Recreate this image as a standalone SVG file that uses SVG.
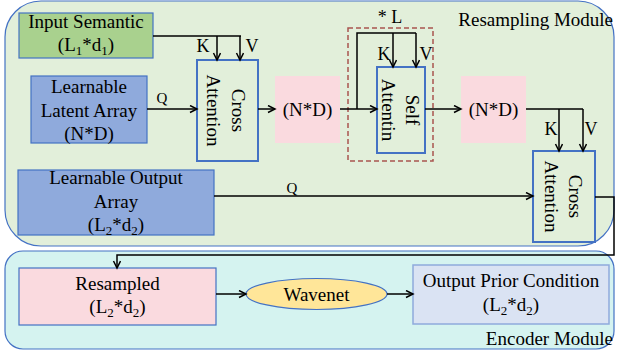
<svg xmlns="http://www.w3.org/2000/svg" width="619" height="356" viewBox="0 0 619 356">
<defs>
<marker id="arr" markerUnits="userSpaceOnUse" markerWidth="10" markerHeight="10" refX="8" refY="4" orient="auto">
<path d="M1,0.5 L8,4 L1,7.5" fill="none" stroke="#000" stroke-width="1.5"/>
</marker>
</defs>
<style>
text{font-family:"Liberation Serif","Times New Roman",serif;fill:#000;}
.t{font-size:19px;text-anchor:middle;}
.s{font-size:13px;}
.kv{font-size:18px;text-anchor:middle;}
.q{font-size:15px;text-anchor:middle;}
.ln{fill:none;stroke:#000;stroke-width:1.5;}
.ar{marker-end:url(#arr);}
.blue{fill:#8FAADC;stroke:#4472C4;stroke-width:1.2;}
.att{fill:none;stroke:#4472C4;stroke-width:2;}
.pink{fill:#FADADF;}
</style>
<g id="resampling-module">
<rect x="5" y="1" width="609" height="245" rx="36" ry="36" fill="#E2EFDA" stroke="#4472C4" stroke-width="1.2"/>
<text x="613" y="26" style="font-size:19px;text-anchor:end;">Resampling Module</text>
</g>
<g id="encoder-module">
<rect x="5" y="251" width="609" height="98" rx="18" ry="18" fill="#D5F3F0" stroke="#4472C4" stroke-width="1.2"/>
<text x="613" y="345" style="font-size:19px;text-anchor:end;">Encoder Module</text>
</g>
<g id="input-semantic">
<rect x="19" y="13" width="134" height="45" fill="#A9D18E" stroke="#4472C4" stroke-width="1.2"/>
<text x="86" y="28" class="t">Input Semantic</text>
<text x="86" y="51" class="t">(L<tspan class="s" dy="4">1</tspan><tspan dy="-4">*d</tspan><tspan class="s" dy="4">1</tspan><tspan dy="-4">)</tspan></text>
</g>
<g id="latent-array">
<rect x="31" y="76" width="116" height="67" class="blue"/>
<text x="89" y="93" class="t">Learnable</text>
<text x="89" y="116.5" class="t">Latent Array</text>
<text x="89" y="140" class="t">(N*D)</text>
</g>
<g id="cross-attention-1">
<rect x="197" y="60" width="61" height="101" class="att"/>
<g transform="translate(227.5,110.5) rotate(90)">
<text x="0" y="-4" class="t">Cross</text>
<text x="0" y="21" class="t">Attention</text>
</g>
</g>
<g id="nd-1">
<rect x="275" y="76" width="65" height="67" class="pink"/>
<text x="307.5" y="116" class="t">(N*D)</text>
</g>
<g id="self-attention-loop">
<rect x="348" y="28" width="85" height="133" fill="none" stroke="#A9554F" stroke-width="1.5" stroke-dasharray="5,3"/>
<text x="390" y="23" class="kv">* L</text>
</g>
<g id="self-attention">
<rect x="377" y="67" width="48" height="86" class="att"/>
<g transform="translate(401,110) rotate(90)">
<text x="0" y="-4.5" class="t">Self</text>
<text x="0" y="19.5" class="t">Attentin</text>
</g>
</g>
<g id="nd-2">
<rect x="461" y="76" width="65" height="67" class="pink"/>
<text x="493.5" y="116" class="t">(N*D)</text>
</g>
<g id="output-array">
<rect x="18" y="170" width="196" height="65" class="blue"/>
<text x="116" y="184" class="t">Learnable Output</text>
<text x="116" y="208" class="t">Array</text>
<text x="116" y="231" class="t">(L<tspan class="s" dy="4">2</tspan><tspan dy="-4">*d</tspan><tspan class="s" dy="4">2</tspan><tspan dy="-4">)</tspan></text>
</g>
<g id="cross-attention-2">
<rect x="533" y="151" width="62" height="91" class="att"/>
<g transform="translate(564,196.5) rotate(90)">
<text x="0" y="-4.5" class="t">Cross</text>
<text x="0" y="19.5" class="t">Attention</text>
</g>
</g>
<g id="resampled">
<rect x="19" y="268" width="197" height="57" fill="#FADADF" stroke="#4472C4" stroke-width="1.2"/>
<text x="117.5" y="290" class="t">Resampled</text>
<text x="117.5" y="313" class="t">(L<tspan class="s" dy="4">2</tspan><tspan dy="-4">*d</tspan><tspan class="s" dy="4">2</tspan><tspan dy="-4">)</tspan></text>
</g>
<g id="wavenet">
<ellipse cx="316.5" cy="294" rx="70.5" ry="15.5" fill="#FFE699" stroke="#4472C4" stroke-width="1.2"/>
<text x="316.5" y="300.5" class="t">Wavenet</text>
</g>
<g id="output-prior-condition">
<rect x="413" y="265" width="196" height="59" fill="#DAE3F3" stroke="#8FAADC" stroke-width="1.5"/>
<text x="511" y="287" class="t">Output Prior Condition</text>
<text x="511" y="311" class="t">(L<tspan class="s" dy="4">2</tspan><tspan dy="-4">*d</tspan><tspan class="s" dy="4">2</tspan><tspan dy="-4">)</tspan></text>
</g>
<g id="connectors">
<path d="M153,36 H241" class="ln" stroke-width="2"/>
<path d="M217,36 V60" class="ln ar"/>
<path d="M240,36 V60" class="ln ar"/>
<text x="203" y="52" class="kv">K</text>
<text x="252" y="52" class="kv">V</text>
<path d="M147,109 H197" class="ln ar"/>
<text x="162" y="103" class="q">Q</text>
<path d="M258,109 H275" class="ln ar"/>
<path d="M340,109 H377" class="ln ar"/>
<path d="M357,109 V33 H416" class="ln"/>
<path d="M393,33 V67" class="ln ar"/>
<path d="M416,33 V67" class="ln ar"/>
<text x="384" y="60" class="kv">K</text>
<text x="426" y="60" class="kv">V</text>
<path d="M425,109 H461" class="ln ar"/>
<path d="M526,109 H583" class="ln"/>
<path d="M559,109 V151" class="ln ar"/>
<path d="M583,109 V151" class="ln ar"/>
<text x="551" y="135" class="kv">K</text>
<text x="591" y="135" class="kv">V</text>
<path d="M214,196 H533" class="ln ar"/>
<text x="292" y="193" class="q">Q</text>
<path d="M595,197 H614 V255 H117 V268" class="ln ar"/>
<path d="M216,294 H246" class="ln ar"/>
<path d="M387,294 H413" class="ln ar"/>
</g>
</svg>
